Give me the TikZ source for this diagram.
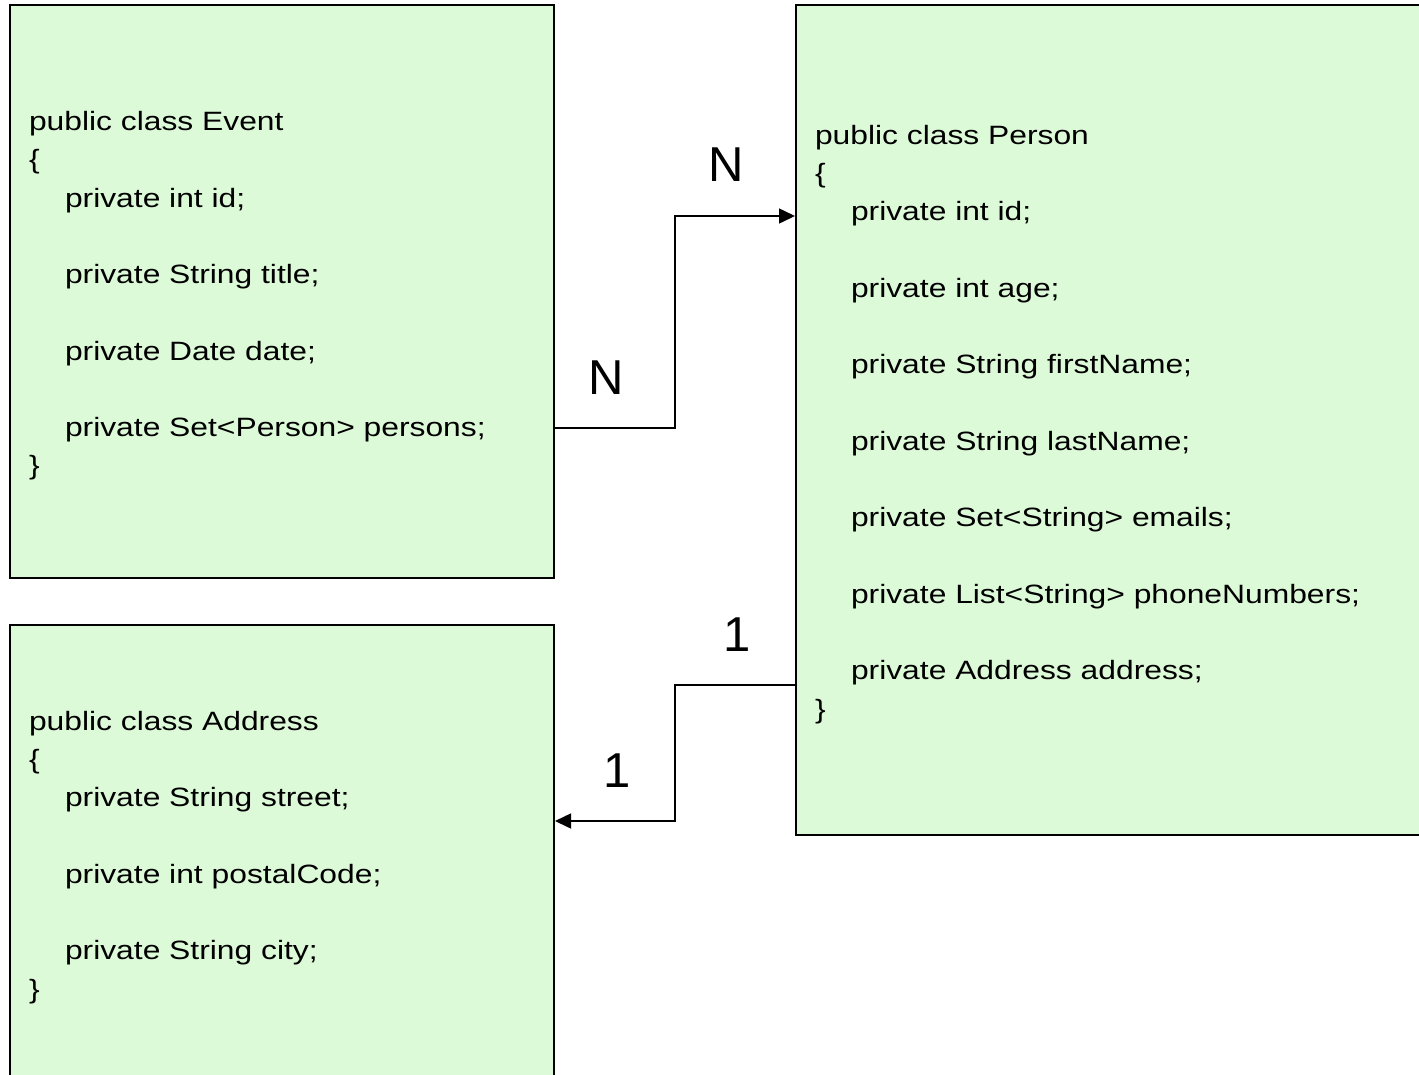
\documentclass[tikz,border=0pt]{standalone}
\usepackage{fontspec}
\setmainfont{Liberation Sans}
\newfontfamily\codefont[FakeStretch=1.2]{Liberation Sans}
\usetikzlibrary{arrows.meta}
\definecolor{boxgreen}{RGB}{221,250,216}
\newcommand{\ind}{\hspace*{36pt}}
\newcommand{\toprule}{\rule{0pt}{28pt}}

\begin{document}
\begin{tikzpicture}[x=1pt, y=-1pt]
\tikzstyle{classbox} = [rectangle, draw=black, line width=2pt, fill=boxgreen, inner xsep=19pt, inner ysep=0pt, align=left, font=\codefont\fontsize{26.5}{38.25}\selectfont]
\tikzstyle{assoc} = [line width=1.5pt, -{Triangle[length=16pt, width=15pt]}]
\tikzstyle{mult} = [inner sep=0pt, font=\fontsize{49}{49}\selectfont]
\useasboundingbox (0,0) rectangle (1419,1074);
\node[classbox, minimum width=544pt, minimum height=573pt, text width=506pt] (event) at (282,291.5) {\toprule public class Event\\
{\{}\\
\ind private int id;\\[38.25pt]
\ind private String title;\\[38.25pt]
\ind private Date date;\\[38.25pt]
\ind private Set<Person> persons;\\
{\}}};
\node[classbox, minimum width=634pt, minimum height=830pt, text width=596pt] (person) at (1113,420) {\toprule public class Person\\
{\{}\\
\ind private int id;\\[38.25pt]
\ind private int age;\\[38.25pt]
\ind private String firstName;\\[38.25pt]
\ind private String lastName;\\[38.25pt]
\ind private Set<String> emails;\\[38.25pt]
\ind private List<String> phoneNumbers;\\[38.25pt]
\ind private Address address;\\
{\}}};
\node[classbox, minimum width=544pt, minimum height=456pt, text width=506pt] (address) at (282,853) {\toprule public class Address\\
{\{}\\
\ind private String street;\\[38.25pt]
\ind private int postalCode;\\[38.25pt]
\ind private String city;\\
{\}}};
\node[mult] (mEventPerson) at (726,165) {N};
\node[mult] (mPersonEvent) at (606,378) {N};
\node[mult] (mPersonAddr) at (737,635) {1};
\node[mult] (mAddrPerson) at (617,771) {1};
\draw[assoc] (event.east |- 0,428) -- (675,428) |- (person.west |- 0,216);
\draw[assoc] (person.west |- 0,685) -- (675,685) |- (address.east |- 0,821);
\end{tikzpicture}
\end{document}
